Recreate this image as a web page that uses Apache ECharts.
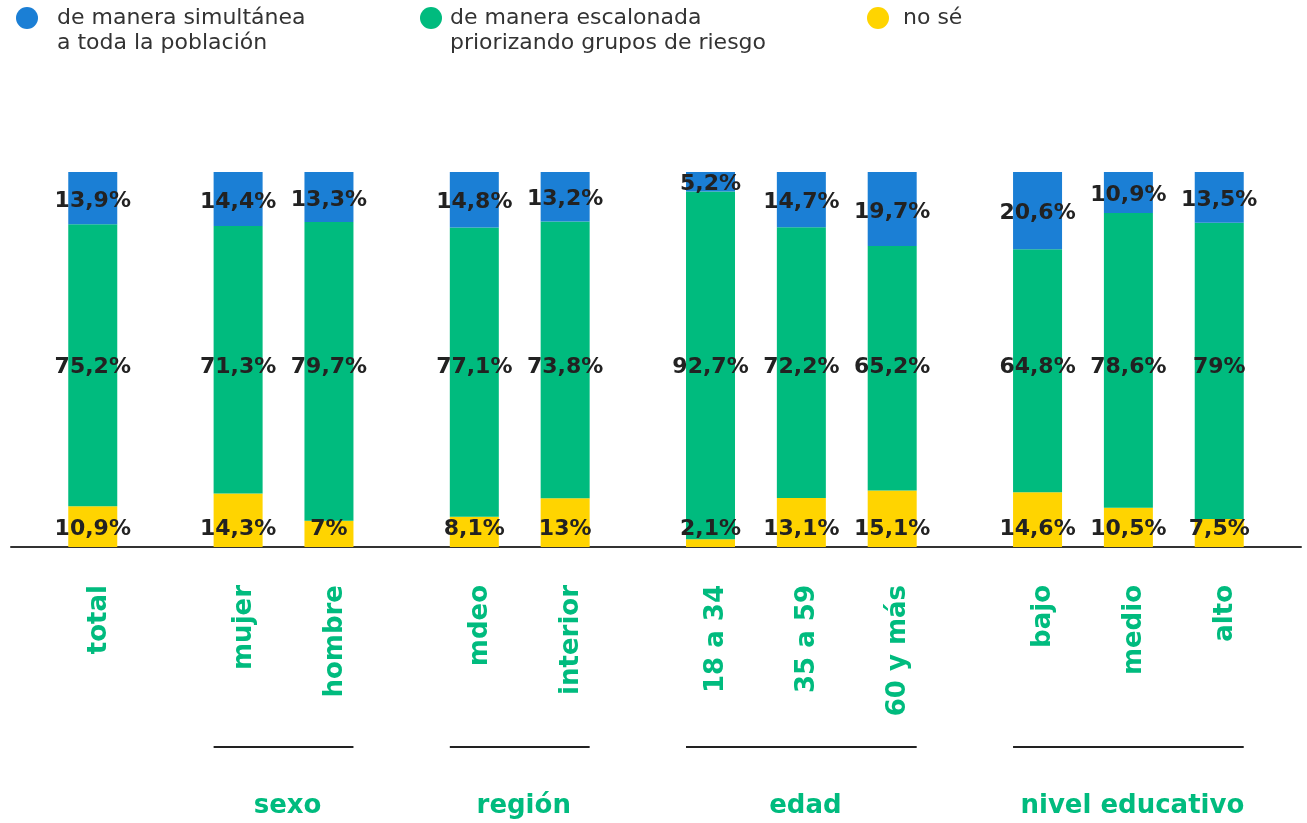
<!DOCTYPE html>
<html>
<head>
<meta charset="utf-8">
<script src="https://cdn.jsdelivr.net/npm/echarts@6/dist/echarts.min.js"></script>
<style>
    html, body { margin: 0; padding: 0; background: #fff; }
    #chart { width: 1307px; height: 823px; }
</style>
</head>
<body>
<div id="chart"></div>
<script>
// categories and groups
const categories = ['total', 'mujer', 'hombre', 'mdeo', 'interior', '18 a 34', '35 a 59', '60 y más', 'bajo', 'medio', 'alto'];
const groups = [
    { name: '', items: ['total'] },
    { name: 'sexo', items: ['mujer', 'hombre'] },
    { name: 'región', items: ['mdeo', 'interior'] },
    { name: 'edad', items: ['18 a 34', '35 a 59', '60 y más'] },
    { name: 'nivel educativo', items: ['bajo', 'medio', 'alto'] }
];
const seriesNames = ['de manera simultánea\na toda la población', 'de manera escalonada\npriorizando grupos de riesgo', 'no sé'];

// values (%)
const simultanea = [13.9, 14.4, 13.3, 14.8, 13.2, 5.2, 14.7, 19.7, 20.6, 10.9, 13.5];
const escalonada = [75.2, 71.3, 79.7, 77.1, 73.8, 92.7, 72.2, 65.2, 64.8, 78.6, 79];
const noSe = [10.9, 14.3, 7, 8.1, 13, 2.1, 13.1, 15.1, 14.6, 10.5, 7.5];

const colors = ['#1b7fd5', '#00bb7e', '#ffd400'];
const green = '#00bb7e';
const BOLD_FONT = 'DejaVu Sans';

// build axis slots with blank spacers between bars / groups
const EDGE = 4, INNER = 4, OUTER = 7;
let slots = [];
const pad = (n) => { for (let i = 0; i < n; i++) slots.push(''); };
pad(EDGE);
groups.forEach((g, gi) => {
    if (gi > 0) pad(OUTER);
    g.items.forEach((it, ii) => {
        if (ii > 0) pad(INNER);
        slots.push(it);
    });
});
pad(EDGE);

const toSlots = (arr) => slots.map(s => {
    const i = categories.indexOf(s);
    return i < 0 ? '-' : arr[i];
});

const fmt = (p) => String(p.value).replace('.', ',') + '%';

const labelStyle = {
    show: true,
    position: 'inside',
    formatter: fmt,
    color: '#222',
    fontFamily: BOLD_FONT,
    fontWeight: 'bold',
    fontSize: 22
};

const BAR_W = 49;

let myChart = echarts.init(document.getElementById('chart'));

// legend shows the first line of each name; second lines are added below
const LEGEND_FONT = 22;
const legendBase = {
    top: 2,
    icon: 'circle',
    itemWidth: 22,
    itemHeight: 22,
    selectedMode: false,
    formatter: (name) => name.split('\n')[0]
};
const legendText = (padLeft) => ({
    fontFamily: 'DejaVu Sans',
    fontSize: LEGEND_FONT,
    color: '#333',
    padding: [0, 0, 0, padLeft]
});
const legendLefts = [11, 415, 862];
const legendPads = [14, 3, 9];

let option = {
    backgroundColor: '#fff',
    animation: false,
    legend: seriesNames.map((n, i) => Object.assign({}, legendBase, {
        left: legendLefts[i],
        data: [n],
        textStyle: legendText(legendPads[i])
    })),
    grid: {
        top: 172,
        bottom: 276,
        left: 11,
        right: 6,
        containLabel: false
    },
    xAxis: {
        type: 'category',
        data: slots,
        axisTick: { show: false },
        axisLine: { lineStyle: { color: '#333', width: 2 } },
        axisLabel: {
            interval: 0,
            rotate: 90,
            margin: 38,
            formatter: (v) => v ? '{c|' + v + '}' : '',
            rich: {
                c: {
                    padding: [12, 0, 0, 0],
                    color: green,
                    fontFamily: BOLD_FONT,
                    fontWeight: 'bold',
                    fontSize: 26
                }
            },
            color: green,
            fontFamily: BOLD_FONT,
            fontWeight: 'bold',
            fontSize: 26
        }
    },
    yAxis: {
        type: 'value',
        min: 0,
        max: 100,
        show: false,
        splitLine: { show: false }
    },
    series: [
        {
            name: seriesNames[2],
            type: 'bar',
            stack: 'total',
            barWidth: BAR_W,
            itemStyle: { color: colors[2] },
            label: Object.assign({}, labelStyle, { position: 'insideBottom', distance: 7 }),
            data: toSlots(noSe)
        },
        {
            name: seriesNames[1],
            type: 'bar',
            stack: 'total',
            barWidth: BAR_W,
            itemStyle: { color: colors[1] },
            label: labelStyle,
            data: toSlots(escalonada)
        },
        {
            name: seriesNames[0],
            type: 'bar',
            stack: 'total',
            barWidth: BAR_W,
            itemStyle: { color: colors[0] },
            label: Object.assign({}, labelStyle, { offset: [0, 3] }),
            data: toSlots(simultanea)
        }
    ]
};

option && myChart.setOption(option);

// middle labels sit on one common line across all bars
const LABEL_LEVEL = 48;
const yLevel = myChart.convertToPixel({ yAxisIndex: 0 }, LABEL_LEVEL);
const greenData = slots.map(s => {
    const i = categories.indexOf(s);
    if (i < 0) return '-';
    const yMid = myChart.convertToPixel({ yAxisIndex: 0 }, noSe[i] + escalonada[i] / 2);
    return { value: escalonada[i], label: { offset: [0, yLevel - yMid] } };
});

let graphics = [];

// second lines of the legend names
const legendTextX = [57, 450];
seriesNames.forEach((n, i) => {
    const parts = n.split('\n');
    if (parts.length < 2) return;
    graphics.push({
        type: 'text',
        x: legendTextX[i],
        y: 43,
        style: {
            text: parts[1],
            fill: '#333',
            font: LEGEND_FONT + 'px "DejaVu Sans"',
            align: 'left',
            verticalAlign: 'middle'
        }
    });
});

// group underlines and titles
const LINE_Y = 747, TITLE_Y = 806;
groups.forEach(g => {
    if (!g.name) return;
    const x1 = myChart.convertToPixel({ xAxisIndex: 0 }, slots.indexOf(g.items[0])) - BAR_W / 2;
    const x2 = myChart.convertToPixel({ xAxisIndex: 0 }, slots.indexOf(g.items[g.items.length - 1])) + BAR_W / 2;
    graphics.push({
        type: 'line',
        shape: { x1: x1, y1: LINE_Y, x2: x2, y2: LINE_Y },
        style: { stroke: '#222', lineWidth: 2 }
    });
    graphics.push({
        type: 'text',
        x: (x1 + x2) / 2 + 4,
        y: TITLE_Y,
        style: {
            text: g.name,
            fill: green,
            font: 'bold 26px "' + BOLD_FONT + '"',
            align: 'center',
            verticalAlign: 'middle'
        }
    });
});
myChart.setOption({
    series: [{}, { data: greenData }, {}],
    graphic: graphics
});
</script>
</body>
</html>
